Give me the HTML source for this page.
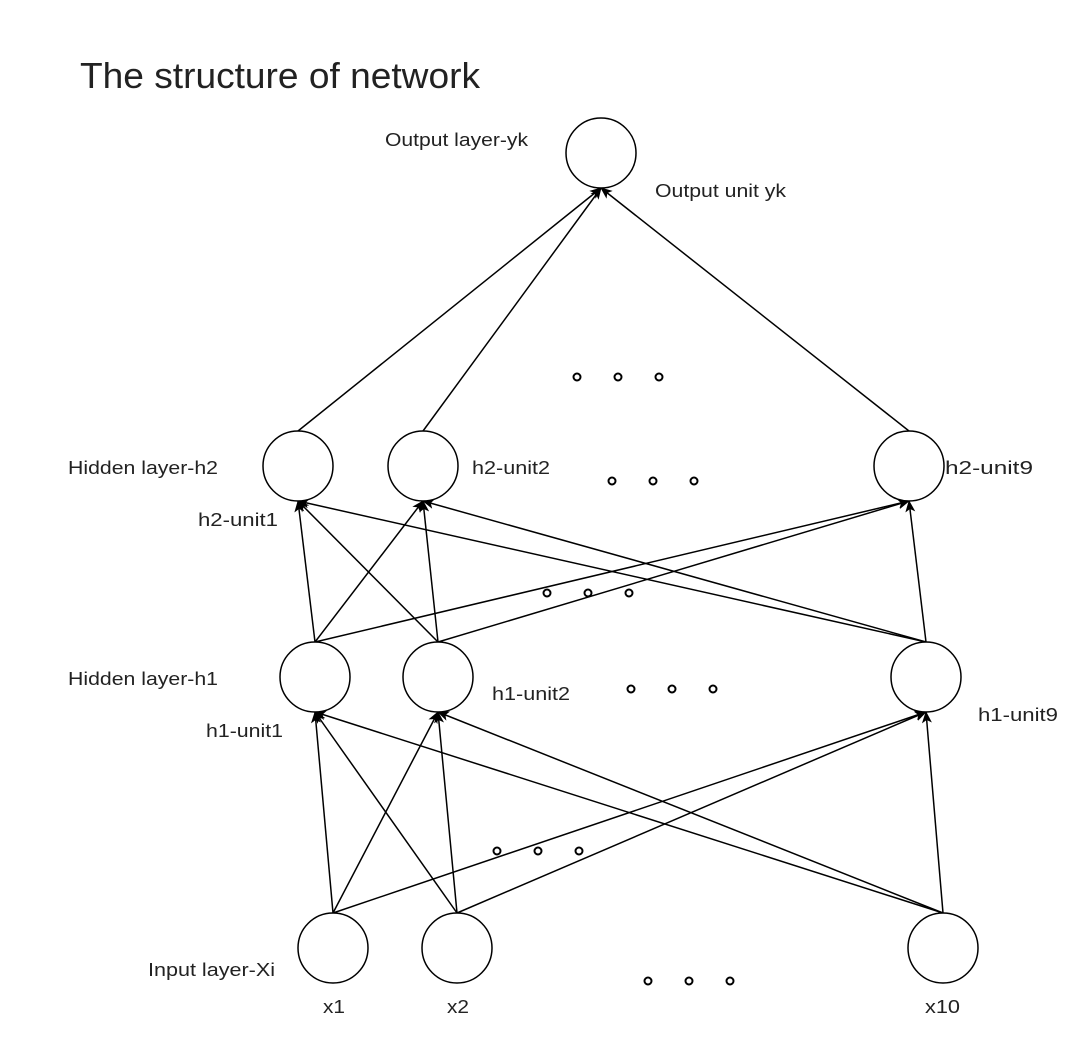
<!DOCTYPE html>
<html><head><style>body{margin:0;background:#fff}svg{display:block}text{font-family:"Liberation Sans",sans-serif;fill:#222}</style></head>
<body>
<svg width="1081" height="1038" xmlns="http://www.w3.org/2000/svg">
<defs><marker id="a" viewBox="0 0 12 10" refX="11" refY="5" markerWidth="12" markerHeight="10" markerUnits="userSpaceOnUse" orient="auto"><path d="M0,0 L12,5 L0,10 L3,5 Z" fill="#000"/></marker></defs>
<text x="80" y="88" font-size="36" textLength="400" lengthAdjust="spacingAndGlyphs">The structure of network</text>
<g stroke="#000" stroke-width="1.5" fill="none" marker-end="url(#a)">
<line x1="333" y1="913" x2="315" y2="712"/><line x1="333" y1="913" x2="438" y2="712"/><line x1="333" y1="913" x2="926" y2="712"/>
<line x1="457" y1="913" x2="315" y2="712"/><line x1="457" y1="913" x2="438" y2="712"/><line x1="457" y1="913" x2="926" y2="712"/>
<line x1="943" y1="913" x2="315" y2="712"/><line x1="943" y1="913" x2="438" y2="712"/><line x1="943" y1="913" x2="926" y2="712"/>
<line x1="315" y1="642" x2="298" y2="501"/><line x1="315" y1="642" x2="423" y2="501"/><line x1="315" y1="642" x2="909" y2="501"/>
<line x1="438" y1="642" x2="298" y2="501"/><line x1="438" y1="642" x2="423" y2="501"/><line x1="438" y1="642" x2="909" y2="501"/>
<line x1="926" y1="642" x2="298" y2="501"/><line x1="926" y1="642" x2="423" y2="501"/><line x1="926" y1="642" x2="909" y2="501"/>
<line x1="298" y1="431" x2="601" y2="188"/><line x1="423" y1="431" x2="601" y2="188"/><line x1="909" y1="431" x2="601" y2="188"/>
</g>
<g stroke="#000" stroke-width="1.5" fill="#fff">
<circle cx="601" cy="153" r="35"/>
<circle cx="298" cy="466" r="35"/><circle cx="423" cy="466" r="35"/><circle cx="909" cy="466" r="35"/>
<circle cx="315" cy="677" r="35"/><circle cx="438" cy="677" r="35"/><circle cx="926" cy="677" r="35"/>
<circle cx="333" cy="948" r="35"/><circle cx="457" cy="948" r="35"/><circle cx="943" cy="948" r="35"/>
</g>
<g stroke="#000" stroke-width="2" fill="#fff">
<circle cx="577" cy="377" r="3.5"/><circle cx="618" cy="377" r="3.5"/><circle cx="659" cy="377" r="3.5"/>
<circle cx="612" cy="481" r="3.5"/><circle cx="653" cy="481" r="3.5"/><circle cx="694" cy="481" r="3.5"/>
<circle cx="547" cy="593" r="3.5"/><circle cx="588" cy="593" r="3.5"/><circle cx="629" cy="593" r="3.5"/>
<circle cx="631" cy="689" r="3.5"/><circle cx="672" cy="689" r="3.5"/><circle cx="713" cy="689" r="3.5"/>
<circle cx="497" cy="851" r="3.5"/><circle cx="538" cy="851" r="3.5"/><circle cx="579" cy="851" r="3.5"/>
<circle cx="648" cy="981" r="3.5"/><circle cx="689" cy="981" r="3.5"/><circle cx="730" cy="981" r="3.5"/>
</g>
<g font-size="18">
<text x="385" y="146" textLength="143" lengthAdjust="spacingAndGlyphs">Output layer-yk</text>
<text x="655" y="197" textLength="131" lengthAdjust="spacingAndGlyphs">Output unit yk</text>
<text x="68" y="474" textLength="150" lengthAdjust="spacingAndGlyphs">Hidden layer-h2</text>
<text x="472" y="474" textLength="78" lengthAdjust="spacingAndGlyphs">h2-unit2</text>
<text x="945" y="474" textLength="88" lengthAdjust="spacingAndGlyphs">h2-unit9</text>
<text x="198" y="526" textLength="80" lengthAdjust="spacingAndGlyphs">h2-unit1</text>
<text x="68" y="685" textLength="150" lengthAdjust="spacingAndGlyphs">Hidden layer-h1</text>
<text x="492" y="700" textLength="78" lengthAdjust="spacingAndGlyphs">h1-unit2</text>
<text x="978" y="721" textLength="80" lengthAdjust="spacingAndGlyphs">h1-unit9</text>
<text x="206" y="737" textLength="77" lengthAdjust="spacingAndGlyphs">h1-unit1</text>
<text x="148" y="976" textLength="127" lengthAdjust="spacingAndGlyphs">Input layer-Xi</text>
<text x="323" y="1013" textLength="22" lengthAdjust="spacingAndGlyphs">x1</text>
<text x="447" y="1013" textLength="22" lengthAdjust="spacingAndGlyphs">x2</text>
<text x="925" y="1013" textLength="35" lengthAdjust="spacingAndGlyphs">x10</text>
</g>
</svg>
</body></html>
